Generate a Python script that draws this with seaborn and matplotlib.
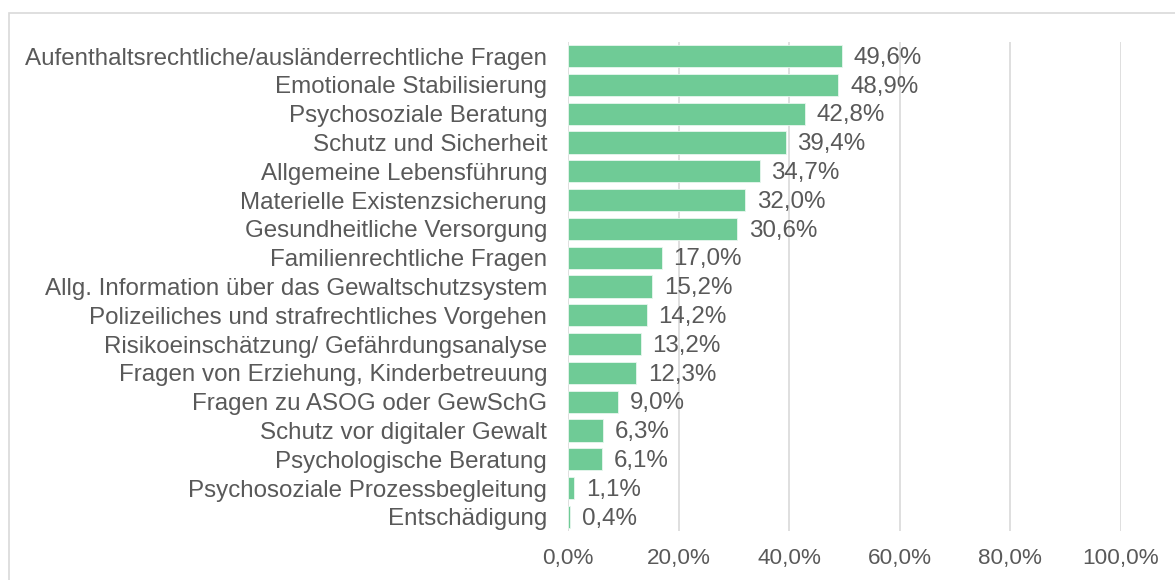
import matplotlib
matplotlib.use("Agg")
import matplotlib.pyplot as plt
import seaborn as sns
import pandas as pd
from matplotlib.patches import Rectangle

categories = [
    "Aufenthaltsrechtliche/ausländerrechtliche Fragen",
    "Emotionale Stabilisierung",
    "Psychosoziale Beratung",
    "Schutz und Sicherheit",
    "Allgemeine Lebensführung",
    "Materielle Existenzsicherung",
    "Gesundheitliche Versorgung",
    "Familienrechtliche Fragen",
    "Allg. Information über das Gewaltschutzsystem",
    "Polizeiliches und strafrechtliches Vorgehen",
    "Risikoeinschätzung/ Gefährdungsanalyse",
    "Fragen von Erziehung, Kinderbetreuung",
    "Fragen zu ASOG oder GewSchG",
    "Schutz vor digitaler Gewalt",
    "Psychologische Beratung",
    "Psychosoziale Prozessbegleitung",
    "Entschädigung",
]
values = [49.6, 48.9, 42.8, 39.4, 34.7, 32.0, 30.6, 17.0, 15.2, 14.2, 13.2, 12.3, 9.0, 6.3, 6.1, 1.1, 0.4]
xticks = [0, 20, 40, 60, 80, 100]

df = pd.DataFrame({"cat": categories, "val": values})

sns.set_theme(style="white")
plt.rcParams['font.family'] = ['Liberation Sans', 'DejaVu Sans']

text_color = "#595959"
fig = plt.figure(figsize=(11.75, 5.8), dpi=100)
ax = fig.add_axes([568/1175, 1-531.4/580, (1121-568)/1175, (531.4-41.6)/580])

sns.barplot(data=df, x="val", y="cat", orient="h", color="#6FCB96",
            saturation=1, width=0.77, ax=ax, edgecolor="#E8F6EE", linewidth=0.6)

ax.set_xlim(0, 100)
ax.set_ylim(len(categories) - 0.5, -0.5)
ax.set_xticks(xticks)
ax.set_xticklabels([f"{t:.1f}%".replace(".", ",") for t in xticks], color=text_color, fontsize=16.2)
ax.tick_params(axis="y", labelsize=17.4, labelcolor=text_color, length=0, pad=15)
ax.tick_params(axis="x", length=0, pad=12)
ax.set_xlabel("")
ax.set_ylabel("")
for s in ax.spines.values():
    s.set_visible(False)
ax.grid(axis="x", color="#D9D9D9", linewidth=1.2)
ax.set_axisbelow(True)

for i, v in enumerate(values):
    ax.text(v + 2.1, i + 0.06, f"{v:.1f}%".replace(".", ","), va="center", ha="left",
            fontsize=17.4, color=text_color)

fig.patches.append(Rectangle((9/1175, -0.1), 1.2, 1 - 13/580 + 0.1, transform=fig.transFigure,
                             fill=False, edgecolor="#D9D9D9", linewidth=1.2))

fig.savefig("out.png", dpi=100)
